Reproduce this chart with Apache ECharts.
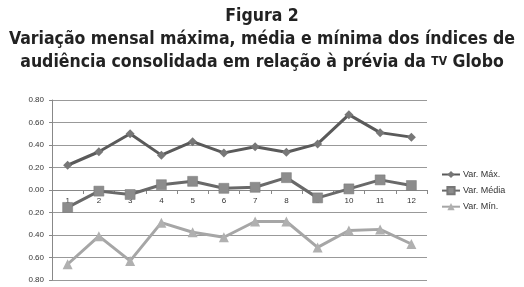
<!DOCTYPE html>
<html><head><meta charset="utf-8">
<script src="https://cdn.jsdelivr.net/npm/echarts@6/dist/echarts.min.js"></script>
<style>html,body{margin:0;padding:0;background:#fff}#c{width:524px;height:287px}</style>
</head><body><div id="c"></div>
<script>
const categories = ['1','2','3','4','5','6','7','8','9','10','11','12'];
const varMax = [0.22,0.34,0.50,0.31,0.43,0.33,0.385,0.335,0.41,0.67,0.51,0.47];
const varMedia = [-0.155,-0.01,-0.04,0.047,0.077,0.015,0.024,0.11,-0.07,0.01,0.09,0.04];
const varMin = [-0.66,-0.41,-0.63,-0.29,-0.376,-0.42,-0.28,-0.28,-0.51,-0.36,-0.35,-0.48];
const seriesNames = ['Var. Máx.','Var. Média','Var. Mín.'];

const chart = echarts.init(document.getElementById('c'));
const tf = 'DejaVu Sans Condensed, Liberation Sans Narrow, sans-serif';
chart.setOption({
  animation:false,
  title:[
    {text:'Figura 2', left:'center', top:2, textStyle:{fontFamily:tf, fontWeight:'bold', fontSize:17.5, color:'#222'}},
    {text:'Variação mensal máxima, média e mínima dos índices de', left:'center', top:25, textStyle:{fontFamily:tf, fontWeight:'bold', fontSize:17.5, color:'#222'}},
    {text:'audiência consolidada em relação à prévia da {s|TV} Globo', left:'center', top:48,
     textStyle:{fontFamily:tf, fontWeight:'bold', fontSize:17.5, color:'#222',
       rich:{s:{fontFamily:tf, fontWeight:'bold', fontSize:12, color:'#222'}}}}
  ],
  legend:{
    orient:'vertical', left:436, top:165, itemGap:7, itemWidth:18, itemHeight:9,
    textStyle:{fontFamily:'Liberation Sans, sans-serif', fontSize:9, color:'#333', padding:[0,0,0,-2]},
    data:seriesNames
  },
  grid:{left:52, right:97, top:100, bottom:7},
  xAxis:{
    type:'category', data:categories, boundaryGap:true, position:'bottom', offset:-90,
    axisLine:{onZero:false, lineStyle:{color:'#888', width:1}},
    axisTick:{show:true, length:4, inside:false, lineStyle:{color:'#888'}},
    axisLabel:{margin:7, fontFamily:'Liberation Sans, sans-serif', fontSize:8, color:'#333'}
  },
  yAxis:{
    type:'value', min:-0.8, max:0.8, interval:0.2,
    axisLine:{show:true, lineStyle:{color:'#888'}},
    axisTick:{show:true, length:3, lineStyle:{color:'#888'}},
    axisLabel:{fontFamily:'Liberation Sans, sans-serif', fontSize:8, color:'#333', margin:8,
      formatter:v=>Math.abs(v).toFixed(2)},
    splitLine:{lineStyle:{color:'#999', width:1}}
  },
  series:[
    {name:seriesNames[0], type:'line', data:varMax, symbol:'diamond', symbolSize:9, z:3,
     lineStyle:{color:'#5a5a5a', width:3}, itemStyle:{color:'#777'}},
    {name:seriesNames[1], type:'line', data:varMedia, symbol:'rect', symbolSize:10, z:3,
     lineStyle:{color:'#696969', width:3}, itemStyle:{color:'#8c8c8c', borderColor:'#777', borderWidth:0.5}},
    {name:seriesNames[2], type:'line', data:varMin, symbol:'triangle', symbolSize:10, z:3,
     lineStyle:{color:'#a6a6a6', width:3}, itemStyle:{color:'#b0b0b0'}}
  ]
});
</script></body></html>
